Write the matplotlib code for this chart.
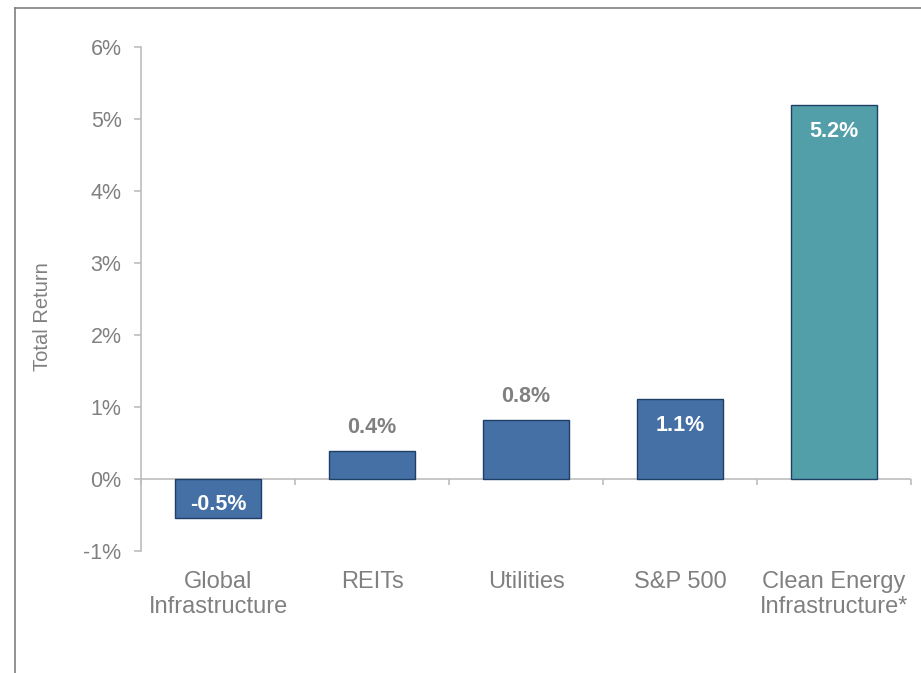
import numpy as np
import matplotlib
matplotlib.use("Agg")
from matplotlib import pyplot as plt
from matplotlib.lines import Line2D

categories = ["Global\nInfrastructure", "REITs", "Utilities", "S&P 500", "Clean Energy\nInfrastructure*"]
returns = [-0.54, 0.39, 0.82, 1.11, 5.19]
labels = ["-0.5%", "0.4%", "0.8%", "1.1%", "5.2%"]
# which labels sit inside the bar (white) vs above it (grey)
inside = [True, False, False, True, True]
bar_colors = ["#4470A6", "#4470A6", "#4470A6", "#4470A6", "#529FAA"]
yticks = [-1, 0, 1, 2, 3, 4, 5, 6]

plt.rcParams["font.family"] = ["Liberation Sans", "DejaVu Sans"]
grey = "#808080"
axis_grey = "#BDBDBD"

fig = plt.figure(figsize=(9.21, 6.73), dpi=100)
ax = fig.add_axes([141 / 921, 1 - 551 / 673, 770 / 921, 504 / 673])

x = np.arange(len(categories))
ax.bar(x, returns, width=0.56, color=bar_colors, edgecolor="#1F3F66", linewidth=1.0, zorder=3)

ax.set_xlim(-0.5, len(categories) - 0.5)
ax.set_ylim(-1, 6)

# zero line + category separators
ax.axhline(0, color=axis_grey, linewidth=1.2, zorder=2)
bounds = np.arange(len(categories) + 1) - 0.5
ax.vlines(bounds, -0.08, 0, color=axis_grey, linewidth=1.2, clip_on=False, zorder=2)

for s in ["top", "right", "bottom"]:
    ax.spines[s].set_visible(False)
ax.spines["left"].set_color(axis_grey)
ax.spines["left"].set_linewidth(1.2)

ax.set_yticks(yticks)
ax.set_yticklabels([f"{t}%" for t in yticks])
ax.tick_params(axis="y", colors=axis_grey, labelcolor=grey, labelsize=15.5, length=5, width=1.2, pad=9)
ax.set_xticks(x)
ax.set_xticklabels(categories, linespacing=1.15)
ax.tick_params(axis="x", length=0, labelcolor=grey, labelsize=17, pad=14.5)

ax.set_ylabel("Total Return", color=grey, fontsize=14.5)
ax.yaxis.set_label_coords(-0.1156, 0.466)

for xi, v, lab, ins in zip(x, returns, labels, inside):
    if ins:
        if v >= 0:
            ax.text(xi, v - 0.37, lab, ha="center", va="center", color="white",
                    fontsize=15.5, fontweight="bold", zorder=4)
        else:
            ax.text(xi, v + 0.18, lab, ha="center", va="center", color="white",
                    fontsize=15.5, fontweight="bold", zorder=4)
    else:
        ax.text(xi, v + 0.32, lab, ha="center", va="center", color=grey,
                fontsize=15.5, fontweight="bold", zorder=4)

# outer frame lines (left and top)
fig.add_artist(Line2D([15 / 921, 15 / 921], [0, 1 - 8 / 673], color="#7F7F7F", linewidth=1.2))
fig.add_artist(Line2D([15 / 921, 1], [1 - 8 / 673, 1 - 8 / 673], color="#7F7F7F", linewidth=1.2))

fig.savefig("out.png", dpi=100)
